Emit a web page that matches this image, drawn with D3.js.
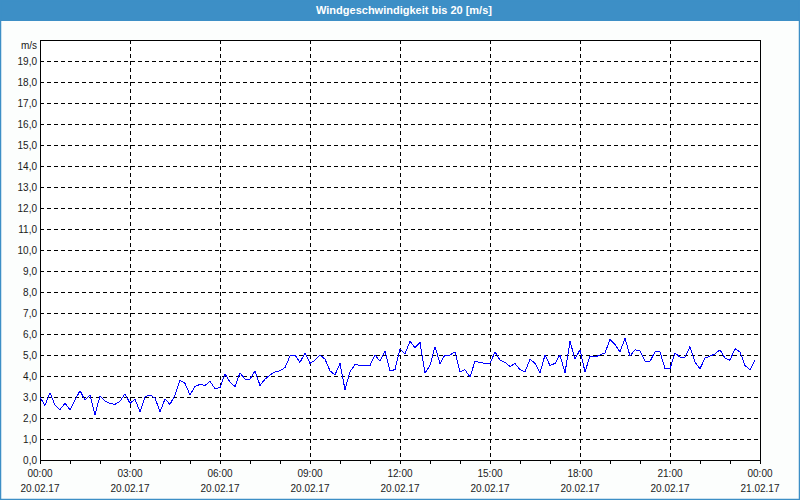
<!DOCTYPE html>
<html>
<head>
<meta charset="utf-8">
<script src="https://cdn.jsdelivr.net/npm/d3@7"></script>
<style>
  html, body { margin: 0; padding: 0; background: #fcfefd; }
  svg { display: block; }
</style>
</head>
<body>
<svg id="chart" width="800" height="500"></svg>
<script>
const title = "Windgeschwindigkeit bis 20 [m/s]";
const unitLabel = "m/s";
// wind speed every 10 minutes, 20.02.17 00:00 - 23:50
const windSpeed = [
  3.0, 2.6, 3.2, 2.6, 2.4, 2.7, 2.4, 2.85, 3.3, 2.85, 3.1, 2.15, 3.05, 2.8, 2.7, 2.65, 2.8, 3.15,
  2.7, 2.9, 2.3, 3.0, 3.1, 2.95, 2.3, 2.9, 2.65, 3.1, 3.8, 3.65, 3.1, 3.5, 3.6, 3.55, 3.75, 3.4,
  3.45, 4.1, 3.7, 3.5, 4.15, 3.85, 3.85, 4.25, 3.55, 3.85, 4.05, 4.2, 4.25, 4.4, 4.95, 5.0,
  4.65, 5.1, 4.6, 4.75, 5.0, 4.8, 4.25, 4.05, 4.6, 3.35, 4.2, 4.55, 4.5, 4.5, 4.5, 5.0, 4.7,
  5.2, 4.25, 4.3, 5.3,
  5.05, 5.65, 5.35, 5.6, 4.15, 4.5, 5.4, 4.6, 5.0, 5.0, 5.15, 4.2, 4.3, 3.95, 4.7, 4.65, 4.6,
  4.6, 5.15, 4.75, 4.65, 4.45, 4.6, 4.3, 4.2, 4.8, 4.6, 4.15, 5.0, 4.5, 4.6, 5.0, 4.15, 5.65,
  4.8, 5.25,
  4.2, 4.95, 4.9, 5.0, 5.1, 5.75, 5.5, 5.15, 5.8, 4.95, 5.25, 5.2, 4.7, 4.7, 5.15, 5.15, 4.35,
  4.35, 5.1, 4.9, 4.9, 5.4, 4.65, 4.35, 4.85, 4.95, 5.05, 5.25, 4.85, 4.75, 5.3, 5.15, 4.5,
  4.3, 4.75
];
const stepMinutes = 10;
const xTickTimes = ["00:00", "03:00", "06:00", "09:00", "12:00", "15:00", "18:00", "21:00", "00:00"];
const xTickDates = ["20.02.17", "20.02.17", "20.02.17", "20.02.17", "20.02.17", "20.02.17", "20.02.17", "20.02.17", "21.02.17"];
const yTicks = d3.range(0, 20, 1);

(function () {
const svg = d3.select("#chart");
const W = 800, H = 500;
const pL = 40, pR = 760, pT = 40, pB = 460;
const font = "'Liberation Sans', Arial, sans-serif";

// outer frame
svg.append("rect").attr("x", 0).attr("y", 0).attr("width", W).attr("height", H).attr("fill", "#fcfefd");
svg.append("rect").attr("x", 0).attr("y", 0).attr("width", W).attr("height", 21).attr("fill", "#3d8fc6");
svg.append("rect").attr("x", 0.5).attr("y", 0.5).attr("width", W - 1).attr("height", H - 1)
  .attr("fill", "none").attr("stroke", "#3d8fc6").attr("stroke-width", 1.5);
svg.append("text").attr("x", 404).attr("y", 14).attr("text-anchor", "middle")
  .attr("fill", "#ffffff").attr("font-family", font).attr("font-size", 11).attr("font-weight", "bold")
  .text(title);

const x = d3.scaleLinear().domain([0, 1440]).range([pL, pR]);
const y = d3.scaleLinear().domain([0, 20]).range([pB, pT]);

svg.append("rect").attr("x", pL).attr("y", pT).attr("width", pR - pL).attr("height", pB - pT).attr("fill", "#ffffff");

const g = svg.append("g").attr("shape-rendering", "crispEdges");

g.selectAll(".hgrid").data(yTicks.filter(d => d > 0)).enter().append("line")
  .attr("x1", pL).attr("x2", pR)
  .attr("y1", d => Math.round(y(d)) + 0.5).attr("y2", d => Math.round(y(d)) + 0.5)
  .attr("stroke", "#000").attr("stroke-width", 1).attr("stroke-dasharray", "4,3");

const majorMinutes = xTickTimes.map((t, i) => i * 180);
g.selectAll(".vgrid").data(majorMinutes.filter(m => m > 0 && m < 1440)).enter().append("line")
  .attr("y1", pT).attr("y2", pB)
  .attr("x1", d => Math.round(x(d)) + 0.5).attr("x2", d => Math.round(x(d)) + 0.5)
  .attr("stroke", "#000").attr("stroke-width", 1).attr("stroke-dasharray", "4,3");

g.append("rect").attr("x", pL + 0.5).attr("y", pT + 0.5).attr("width", pR - pL).attr("height", pB - pT)
  .attr("fill", "none").attr("stroke", "#000").attr("stroke-width", 1);

g.selectAll(".tick").data(d3.range(0, 1441, 60)).enter().append("line")
  .attr("x1", d => Math.round(x(d)) + 0.5).attr("x2", d => Math.round(x(d)) + 0.5)
  .attr("y1", pB).attr("y2", pB + 4)
  .attr("stroke", "#000").attr("stroke-width", 1);

svg.selectAll(".ylab").data(yTicks).enter().append("text")
  .attr("x", 37).attr("y", d => y(d) + 4).attr("text-anchor", "end")
  .attr("font-family", font).attr("font-size", 10).attr("fill", "#1a1a1a")
  .text(d => d.toFixed(1).replace(".", ","));
svg.append("text").attr("x", 37).attr("y", 49).attr("text-anchor", "end")
  .attr("font-family", font).attr("font-size", 10).attr("fill", "#1a1a1a").text(unitLabel);

svg.selectAll(".xlab1").data(xTickTimes).enter().append("text")
  .attr("x", (d, i) => x(majorMinutes[i])).attr("y", 477).attr("text-anchor", "middle")
  .attr("font-family", font).attr("font-size", 10).attr("fill", "#1a1a1a").text(d => d);
svg.selectAll(".xlab2").data(xTickDates).enter().append("text")
  .attr("x", (d, i) => x(majorMinutes[i])).attr("y", 492).attr("text-anchor", "middle")
  .attr("font-family", font).attr("font-size", 10).attr("fill", "#1a1a1a").text(d => d);

const line = d3.line().x((d, i) => x(i * stepMinutes)).y(d => y(d));
svg.append("path").datum(windSpeed).attr("d", line)
  .attr("fill", "none").attr("stroke", "#0000ff").attr("stroke-width", 1)
  .attr("shape-rendering", "crispEdges");
})();
</script>
</body>
</html>
